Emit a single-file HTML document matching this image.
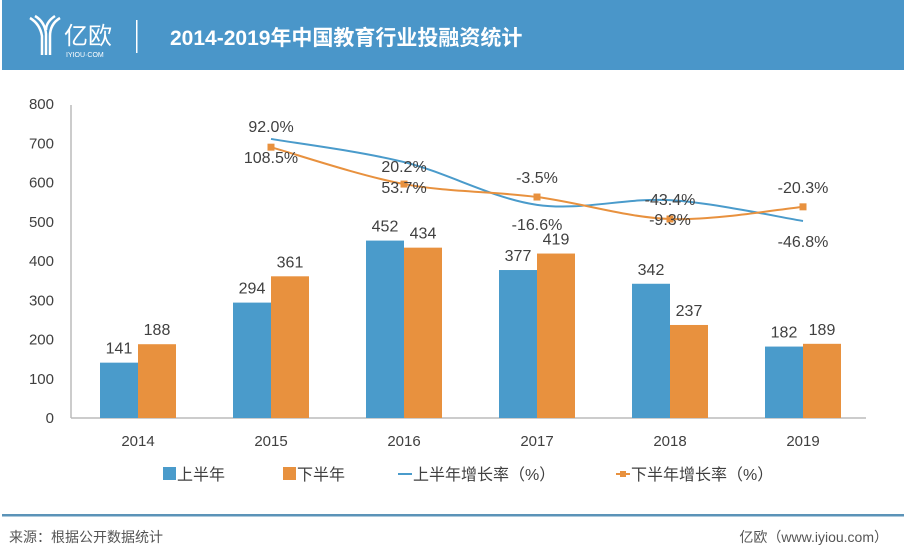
<!DOCTYPE html>
<html><head><meta charset="utf-8">
<style>
html,body{margin:0;padding:0;background:#fff;}
body{width:904px;height:554px;position:relative;overflow:hidden;font-family:"Liberation Sans","Noto Sans CJK SC",sans-serif;}
#hdr{position:absolute;left:2px;top:0;width:902px;height:70px;background:#4a96c9;}
#chart{position:absolute;left:0;top:0;}
</style></head><body>
<div id="hdr">
  <svg width="902" height="70">
    <g stroke="#fff" stroke-width="2.5" fill="none">
      <path d="M28 18 Q38 24 40 36 L40 55"/><path d="M33 16 Q43 22 44 34 L44 55"/>
      <path d="M58 18 Q48 24 48 36 L48 55"/><path d="M53 16 Q44 22 44 30"/>
    </g>
    <text x="62" y="44" fill="#fff" font-size="24" font-family="Liberation Sans,Noto Sans CJK SC,sans-serif">亿欧</text>
    <text x="64" y="57" fill="#fff" font-size="7">IYIOU·COM</text>
    <rect x="134" y="20" width="1.5" height="33" fill="#fff"/>
    <text x="168" y="45" fill="#fff" font-size="21" font-weight="bold" font-family="Liberation Sans,Noto Sans CJK SC,sans-serif">2014-2019年中国教育行业投融资统计</text>
  </svg>
</div>
<svg id="chart" width="904" height="554"></svg>
<script>
const categories=["2014","2015","2016","2017","2018","2019"];
const firstHalf=[141,294,452,377,342,182];
const secondHalf=[188,361,434,419,237,189];
const firstGrowthLabels=["","92.0%","20.2%","-16.6%","-43.4%","-46.8%"];
const secondGrowthLabels=["","108.5%","53.7%","-3.5%","-9.3%","-20.3%"];
const firstGrowthPlot=[null,711,652,543,555,502];
const secondGrowthPlot=[null,690,596,563,507,538];
const yTicks=[0,100,200,300,400,500,600,700,800];

const NS="http://www.w3.org/2000/svg";
const svg=document.getElementById('chart');
const y0=418,k=(418-104)/800;
const yS=v=>y0-v*k;
const xC=i=>138+i*133;
const BW=38;
const BLUE="#4a9bcb",ORANGE="#e8913e",TXT="#404040";
function mk(t,a,p){const e=document.createElementNS(NS,t);for(const n in a)e.setAttribute(n,a[n]);(p||svg).appendChild(e);return e;}
function tx(x,y,s,opt){const e=mk('text',Object.assign({x:x,y:y,fill:TXT,'font-size':15,'text-anchor':'middle'},opt||{}));e.textContent=s;return e;}

let ax=mk('line',{x1:71,y1:105,x2:71,y2:y0,stroke:'#bbb','stroke-width':1.5});


let bl=mk('line',{x1:71,y1:y0,x2:866,y2:y0,stroke:'#bbb','stroke-width':1.5});


yTicks.forEach(v=>{const t=tx(54,yS(v)+5,String(v),{'text-anchor':'end'});

});
categories.forEach((c,i)=>{
 const t=tx(xC(i),446,c);
 
 
 const b1=mk('rect',{x:xC(i)-BW,y:yS(firstHalf[i]),width:BW,height:y0-yS(firstHalf[i]),fill:BLUE});
 
 
 const b2=mk('rect',{x:xC(i),y:yS(secondHalf[i]),width:BW,height:y0-yS(secondHalf[i]),fill:ORANGE});
 
 
 const l1=tx(xC(i)-BW/2,yS(firstHalf[i])-9,String(firstHalf[i]),{'font-size':16});
 
 
 const l2=tx(xC(i)+BW/2,yS(secondHalf[i])-9,String(secondHalf[i]),{'font-size':16});
 
 
});
function smooth(pts){let d='M'+pts[0][0]+' '+pts[0][1];
 for(let i=0;i<pts.length-1;i++){const p0=pts[i-1]||pts[i],p1=pts[i],p2=pts[i+1],p3=pts[i+2]||p2;
  d+=' C'+(p1[0]+(p2[0]-p0[0])/6)+' '+(p1[1]+(p2[1]-p0[1])/6)+' '+(p2[0]-(p3[0]-p1[0])/6)+' '+(p2[1]-(p3[1]-p1[1])/6)+' '+p2[0]+' '+p2[1];}
 return d;}
function line(vals,color,name,markers){const pts=[];vals.forEach((v,i)=>{if(v!=null)pts.push([xC(i),yS(v)]);});
 const p=mk('path',{d:smooth(pts),fill:'none',stroke:color,'stroke-width':2});
 
 
 if(markers)pts.forEach(q=>{const m=mk('rect',{x:q[0]-3.5,y:q[1]-3.5,width:7,height:7,fill:color});
  
  });}
line(firstGrowthPlot,'#4a9bcb','line-first-half-growth',false);
line(secondGrowthPlot,ORANGE,'line-second-half-growth',true);
// growth labels
const fOff=[0,-12,5,20,0,21],sOff=[0,11,4,-19,1,-19];
categories.forEach((c,i)=>{
 if(firstGrowthPlot[i]!=null){const t=tx(xC(i),yS(firstGrowthPlot[i])+fOff[i]+5,firstGrowthLabels[i],{'font-size':16});
  
  }
 if(secondGrowthPlot[i]!=null){const t=tx(xC(i),yS(secondGrowthPlot[i])+sOff[i]+5,secondGrowthLabels[i],{'font-size':16});
  
  }
});
// legend
const lg=mk('g',{});


const r1=mk('rect',{x:163,y:467,width:13,height:13,fill:BLUE},lg);


tx(177,480,'上半年',{'text-anchor':'start','font-size':16});
const r2=mk('rect',{x:283,y:467,width:13,height:13,fill:ORANGE},lg);


tx(297,480,'下半年',{'text-anchor':'start','font-size':16});
const l3=mk('line',{x1:398,y1:474,x2:412,y2:474,stroke:BLUE,'stroke-width':2},lg);


tx(413,480,'上半年增长率（%）',{'text-anchor':'start','font-size':16});
const l4=mk('line',{x1:616,y1:474,x2:630,y2:474,stroke:ORANGE,'stroke-width':2},lg);


const m4=mk('rect',{x:620,y:471,width:6,height:6,fill:ORANGE},lg);


tx(631,480,'下半年增长率（%）',{'text-anchor':'start','font-size':16});
// footer
const fl=mk('rect',{x:2,y:514,width:902,height:2.5,fill:'#5b93b8'});


const s1=tx(9,542,'来源：根据公开数据统计',{'text-anchor':'start','font-size':14,fill:'#555'});


const s2=tx(888,542,'亿欧（www.iyiou.com）',{'text-anchor':'end','font-size':14,fill:'#555'});


</script>
</body></html>
